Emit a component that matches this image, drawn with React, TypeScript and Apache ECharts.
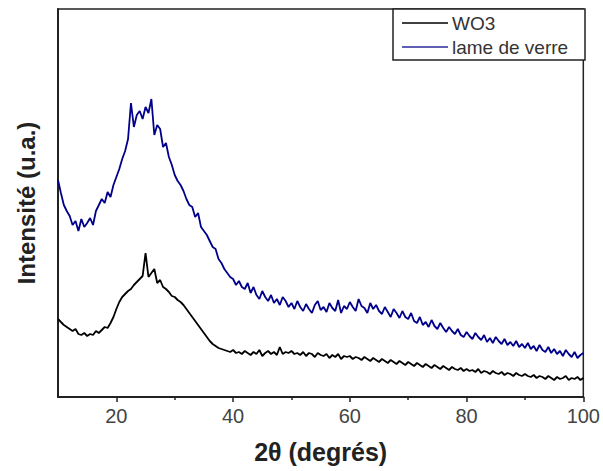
import React, { useEffect, useRef } from "react";
import * as echarts from "echarts";

const angleStart = 10;
const angleStep = 0.5;

const seriesNames = ["WO3", "lame de verre"];

const wo3Values = [
  78, 75, 72, 70, 68, 66, 68, 63, 62, 64, 61, 63, 62, 66, 64, 67, 70, 69, 74, 80,
  88, 95, 100, 103, 106, 108, 112, 115, 118, 121, 144, 120, 124, 128, 114, 117, 110, 108, 105, 101,
  100, 97, 95, 92, 88, 84, 80, 76, 72, 68, 64, 60, 56, 53, 51, 49, 48, 47, 46, 45,
  47, 44, 45, 43, 46, 44, 42, 45, 43, 47, 41, 44, 46, 43, 45, 42, 50, 43, 45, 44,
  46, 43, 44, 42, 45, 41, 44, 43, 40, 44, 42, 41, 43, 39, 42, 40, 43, 38, 41, 40,
  41, 38, 40, 39, 37, 40, 38, 36, 39, 37, 35, 38, 36, 34, 37, 35, 33, 36, 34, 32,
  35, 33, 31, 34, 32, 30, 33, 31, 29, 32, 30, 28, 31, 29, 27, 30, 28, 27, 29, 26,
  28, 26, 27, 25, 28, 24, 26, 25, 23, 26, 24, 23, 25, 22, 24, 23, 21, 24, 22, 21,
  23, 21, 20, 22, 19, 21, 20, 18, 21, 19, 17, 20, 18, 19, 21, 17, 19, 18, 20, 17,
  19,
];

const verreValues = [
  217, 204, 192, 186, 181, 172, 176, 166, 178, 170, 174, 179, 172, 186, 192, 198, 194, 205, 200, 212,
  220, 228, 238, 246, 258, 294, 270, 282, 286, 278, 290, 284, 298, 262, 272, 268, 250, 254, 240, 232,
  222, 216, 212, 206, 198, 192, 190, 180, 184, 170, 166, 162, 156, 150, 148, 138, 134, 128, 124, 120,
  118, 112, 116, 110, 108, 114, 104, 110, 102, 98, 106, 100, 96, 102, 94, 98, 92, 100, 96, 90,
  94, 88, 96, 90, 86, 93, 88, 84, 92, 96, 87, 90, 85, 94, 89, 86, 97, 84, 91, 88,
  95, 90, 86, 98, 91, 89, 84, 94, 88, 92, 86, 83, 90, 85, 80, 88, 84, 79, 86, 80,
  78, 84, 76, 74, 80, 72, 75, 70, 77, 71, 68, 74, 69, 65, 70, 66, 63, 68, 62, 60,
  65, 61, 58, 64, 60, 57, 62, 55, 59, 54, 60, 56, 53, 58, 52, 55, 51, 56, 50, 53,
  49, 54, 48, 51, 46, 52, 47, 45, 50, 44, 48, 43, 46, 41, 47, 43, 40, 45, 39, 42,
  44,
];

const majorTicks = [20, 40, 60, 80, 100];
const minorTicks = [30, 50, 70, 90];

const toPairs = (vals: number[]) => vals.map((v, i) => [angleStart + i * angleStep, v]);

export default function App() {
  const ref = useRef<HTMLDivElement>(null);
  useEffect(() => {
    if (!ref.current) return;
    const chart = echarts.init(ref.current, undefined, { renderer: "svg" });
    const font = "Liberation Sans, Arial, sans-serif";
    chart.setOption({
      animation: false,
      backgroundColor: "#fff",
      grid: {
        left: 58,
        right: 17,
        top: 9,
        bottom: 74,
        show: true,
        borderColor: "#222",
        borderWidth: 1.5,
        backgroundColor: "transparent",
      },
      xAxis: [
        {
          type: "value",
          min: 10,
          max: 100,
          interval: 10,
          name: "2θ (degrés)",
          nameLocation: "middle",
          nameGap: 42,
          nameTextStyle: { fontFamily: font, fontSize: 25, fontWeight: "bold", color: "#222" },
          axisLine: { show: true, onZero: false, lineStyle: { color: "#222", width: 2 } },
          axisTick: { show: true, customValues: majorTicks, length: 5, lineStyle: { color: "#222", width: 1.5 } },
          axisLabel: {
            customValues: majorTicks,
            fontFamily: font,
            fontSize: 20,
            color: "#444",
            margin: 9,
          },
          splitLine: { show: false },
        },
        {
          type: "value",
          min: 10,
          max: 100,
          interval: 10,
          position: "bottom",
          axisLine: { show: false },
          axisTick: { show: true, customValues: minorTicks, length: 3, lineStyle: { color: "#222", width: 1.5 } },
          axisLabel: { show: false },
          splitLine: { show: false },
        },
      ],
      yAxis: {
        type: "value",
        min: 0,
        max: 388,
        name: "Intensité (u.a.)",
        nameLocation: "middle",
        nameGap: 20,
        nameTextStyle: { fontFamily: font, fontSize: 24, fontWeight: "bold", color: "#222" },
        axisLine: { show: true, lineStyle: { color: "#222", width: 2 } },
        axisTick: { show: false },
        axisLabel: { show: false },
        splitLine: { show: false },
      },
      series: [
        {
          name: seriesNames[0],
          type: "line",
          data: toPairs(wo3Values),
          showSymbol: false,
          lineStyle: { color: "#000", width: 1.8 },
        },
        {
          name: seriesNames[1],
          type: "line",
          data: toPairs(verreValues),
          showSymbol: false,
          lineStyle: { color: "#00008b", width: 1.8 },
        },
      ],
      graphic: [
        {
          type: "rect",
          shape: { x: 393, y: 9, width: 192, height: 51 },
          style: { fill: "#fff", stroke: "#222", lineWidth: 1.5 },
          z: 100,
        },
        {
          type: "line",
          shape: { x1: 402, y1: 23, x2: 448, y2: 23 },
          style: { stroke: "#000", lineWidth: 1.6 },
          z: 101,
        },
        {
          type: "text",
          x: 452,
          y: 23,
          style: { text: seriesNames[0], fontFamily: font, fontSize: 19, fill: "#333", verticalAlign: "middle" },
          z: 101,
        },
        {
          type: "line",
          shape: { x1: 402, y1: 47, x2: 448, y2: 47 },
          style: { stroke: "#2a2a9a", lineWidth: 1.6 },
          z: 101,
        },
        {
          type: "text",
          x: 452,
          y: 47,
          style: { text: seriesNames[1], fontFamily: font, fontSize: 19, fill: "#333", verticalAlign: "middle" },
          z: 101,
        },
      ],
    });
    return () => chart.dispose();
  }, []);
  return <div ref={ref} style={{ width: 603, height: 471, position: "absolute", left: 0, top: 0 }} />;
}
